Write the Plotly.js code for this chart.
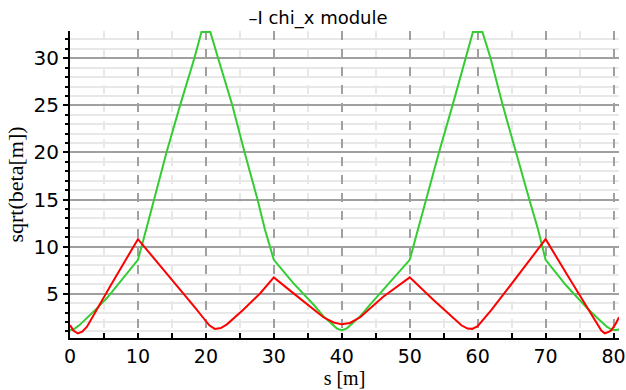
<!DOCTYPE html>
<html>
<head>
<meta charset="utf-8">
<script src="https://cdn.plot.ly/plotly-3.0.1.min.js"></script>
<style>html,body{margin:0;padding:0;background:#fff;}#chart{width:626px;height:390px;}</style>
</head>
<body>
<div id="chart"></div>
<script>
// Red curve (s [m], sqrt(beta[m]))
const redS = [0, 0.5, 1.15, 1.8, 2.5, 3.3, 4.1, 6, 8, 10, 11.5, 13.2, 15, 17, 18.5, 19.6, 20.5, 21.3, 22.2, 23.1, 24.2, 25.5, 28, 30,
  32.9, 35, 37.3, 38.8, 40, 41.2, 42.7, 46.1, 50, 53.5, 56.4, 57.6, 58.5, 59.2, 60, 60.8, 62, 64.3, 67.2, 70,
  73.1, 76, 77.5, 78.2, 78.7, 79.3, 79.7, 80.3, 80.8];
const redV = [1.67, 1.1, 0.78, 0.98, 1.5, 2.45, 3.5, 5.9, 8.35, 10.8, 9.5, 8.05, 6.5, 4.75, 3.45, 2.45, 1.65, 1.27, 1.35, 1.75, 2.45, 3.3, 5.05, 6.74,
  5.04, 3.85, 2.5, 1.95, 1.75, 1.9, 2.5, 4.68, 6.74, 4.33, 2.38, 1.65, 1.3, 1.27, 1.55, 2.2, 3.25, 5.4, 8.2, 10.8,
  7.1, 3.7, 1.9, 1.1, 0.8, 0.95, 1.15, 1.8, 2.5];
// Green curve
const greenS = [0, 0.7, 1.4, 2.5, 4.1, 5.5, 7.3, 9, 10, 11.2, 12.4, 14.2, 16.2, 18.3, 19.35, 20.65, 21.8, 23.9, 25.7, 27.6, 28.7, 30,
  32.9, 35.9, 37.3, 38.5, 39.3, 40, 40.7, 41.5, 42.7, 44.1, 46.1, 50, 51.2, 52.4, 54.3, 56.3, 58.2, 59.3, 60.7, 61.9, 63.7, 65.6, 67.6, 68.9, 70,
  73, 76, 77.5, 79, 79.7, 80.3, 80.8];
const greenV = [1.13, 1.3, 1.67, 2.4, 3.55, 4.6, 6.2, 7.65, 8.6, 11.8, 15, 20, 25, 30, 32.8, 32.8, 30, 25, 20, 15, 11.8, 8.6,
  6.1, 3.8, 2.6, 1.8, 1.3, 1.13, 1.3, 1.8, 2.6, 3.8, 5.4, 8.6, 11.8, 15, 20, 25, 30, 32.8, 32.8, 30, 25, 20, 15, 11.8, 8.6,
  5.9, 3.55, 2.5, 1.5, 1.2, 1.15, 1.2];
const xTicks = [0, 10, 20, 30, 40, 50, 60, 70, 80];
const yTicks = [5, 10, 15, 20, 25, 30];

const traces = [
  {x: greenS, y: greenV, type: 'scatter', mode: 'lines', line: {color: '#33cc33', width: 2}, hoverinfo: 'skip'},
  {x: redS, y: redV, type: 'scatter', mode: 'lines', line: {color: '#ff0000', width: 2}, hoverinfo: 'skip'}
];

const layout = {
  width: 626, height: 390,
  margin: {l: 70, r: 7, t: 31, b: 52},
  paper_bgcolor: '#ffffff', plot_bgcolor: '#ffffff',
  showlegend: false,
  title: {text: '\u2013I chi_x module', x: 0.508, xanchor: 'center', y: 0.955, yanchor: 'middle',
          font: {family: 'DejaVu Sans', size: 18, color: '#000'}},
  xaxis: {
    range: [0, 80.8], tickmode: 'array', tickvals: xTicks, ticktext: xTicks.map(String),
    ticks: 'inside', ticklen: 5, tickwidth: 2, tickcolor: '#000', ticklabeloverflow: 'allow',
    showline: true, linecolor: '#000', linewidth: 2, mirror: false,
    showgrid: true, gridcolor: '#a0a0a0', gridwidth: 2, griddash: 'dash',
    zeroline: false,
    minor: {dtick: 5, tick0: 0, ticks: 'inside', ticklen: 5, tickwidth: 2, tickcolor: '#000', showgrid: true, gridcolor: '#e8e8e8', gridwidth: 2},
    tickfont: {family: 'DejaVu Sans', size: 19, color: '#000'},
    title: {text: 's [m]', font: {family: 'Liberation Serif', size: 20, color: '#000'}, standoff: 1}
  },
  yaxis: {
    range: [0.3, 32.9], tickmode: 'array', tickvals: yTicks, ticktext: yTicks.map(String),
    ticks: 'outside', ticklen: 5, tickwidth: 2, tickcolor: '#000',
    showline: true, linecolor: '#000', linewidth: 2,
    showgrid: true, gridcolor: '#a0a0a0', gridwidth: 2,
    zeroline: false,
    minor: {dtick: 1, tick0: 0, ticks: 'outside', ticklen: 3, tickwidth: 2, tickcolor: '#000', showgrid: true, gridcolor: '#e8e8e8', gridwidth: 2},
    tickfont: {family: 'DejaVu Sans', size: 20, color: '#000'},
    title: {text: 'sqrt(beta[m])', font: {family: 'Liberation Serif', size: 22, color: '#000'}, standoff: 4}
  }
};

Plotly.newPlot('chart', traces, layout, {staticPlot: true, displayModeBar: false});
</script>
</body>
</html>
